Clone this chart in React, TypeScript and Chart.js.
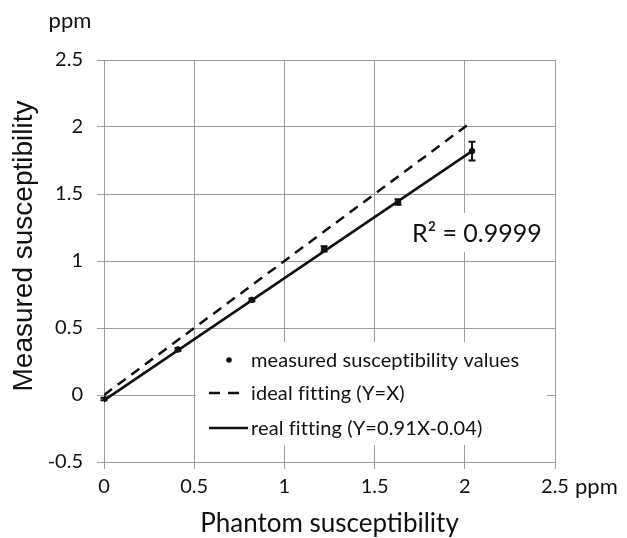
import React, { useEffect, useRef } from "react";
import { Chart, registerables } from "chart.js";

Chart.register(...registerables);

const phantomX = [0, 0.41, 0.82, 1.22, 1.63, 2.04];
const measuredY = [-0.03, 0.34, 0.71, 1.09, 1.44, 1.82];
const measuredErr = [0.01, 0.01, 0.01, 0.02, 0.02, 0.07];
const idealX = [0, 2.04];
const idealY = [0, 2.04];
const fitX = [0, 2.04];
const fitY = [-0.04, 1.82];
const seriesLabels = [
  "measured susceptibility values",
  "ideal fitting (Y=X)",
  "real fitting (Y=0.91X-0.04)",
];
const rSquaredText = "R² = 0.9999";
const xTitle = "Phantom susceptibility";
const yTitle = "Measured susceptibility";
const unitLabel = "ppm";
const xTickValues = [0, 0.5, 1, 1.5, 2, 2.5];
const yTickValues = [-0.5, 0, 0.5, 1, 1.5, 2, 2.5];

const CAL = "Lato, 'Open Sans', sans-serif";
const ARIAL = "'Liberation Sans', Arial, sans-serif";
const INK = "#111";
const GRID = "#9c9c9c";

const overlayPlugin = {
  id: "overlay",
  beforeDatasetsDraw(chart: any) {
    const { ctx, chartArea: a } = chart;
    ctx.save();
    ctx.fillStyle = "#fff";
    // legend box
    ctx.fillRect(a.left + 92, a.top + 282, a.right - a.left - 92 - 8, 103);
    // R² box
    ctx.fillRect(a.left + 301, a.top + 153, 146, 39);
    ctx.restore();
  },
  afterDatasetsDraw(chart: any) {
    const { ctx, scales } = chart;
    const x = scales.x;
    const y = scales.y;
    ctx.save();
    ctx.strokeStyle = INK;
    ctx.lineWidth = 2;
    for (let i = 0; i < phantomX.length; i++) {
      const px = x.getPixelForValue(phantomX[i]);
      const top = y.getPixelForValue(measuredY[i] + measuredErr[i]);
      const bot = y.getPixelForValue(measuredY[i] - measuredErr[i]);
      ctx.beginPath();
      ctx.moveTo(px, top);
      ctx.lineTo(px, bot);
      ctx.moveTo(px - 3.5, top);
      ctx.lineTo(px + 3.5, top);
      ctx.moveTo(px - 3.5, bot);
      ctx.lineTo(px + 3.5, bot);
      ctx.stroke();
    }
    ctx.restore();
  },
  afterDraw(chart: any) {
    const { ctx, chartArea: a } = chart;
    ctx.save();
    ctx.fillStyle = INK;
    ctx.strokeStyle = INK;

    // legend
    const lx = a.left + 105;
    const rows = [a.top + 300, a.top + 333, a.top + 368];
    ctx.font = `20px ${CAL}`;
    ctx.textBaseline = "middle";
    ctx.textAlign = "left";
    // marker
    ctx.beginPath();
    ctx.arc(lx + 20, rows[0], 2.8, 0, Math.PI * 2);
    ctx.fill();
    // dashed
    ctx.lineWidth = 2.5;
    ctx.setLineDash([11, 8]);
    ctx.beginPath();
    ctx.moveTo(lx, rows[1]);
    ctx.lineTo(lx + 31, rows[1]);
    ctx.stroke();
    ctx.setLineDash([]);
    ctx.beginPath();
    ctx.moveTo(lx, rows[2]);
    ctx.lineTo(lx + 39, rows[2]);
    ctx.stroke();
    if ("letterSpacing" in ctx) (ctx as any).letterSpacing = "0.1px";
    for (let i = 0; i < seriesLabels.length; i++) {
      ctx.fillText(seriesLabels[i], lx + 42, rows[i] + 1);
    }
    if ("letterSpacing" in ctx) (ctx as any).letterSpacing = "0px";

    // R²
    ctx.font = `25px ${CAL}`;
    ctx.textBaseline = "alphabetic";
    ctx.fillText(rSquaredText, a.left + 308, a.top + 182);

    // axis titles
    ctx.font = `26px ${CAL}`;
    ctx.textAlign = "center";
    ctx.fillText(xTitle, (a.left + a.right) / 2, 532);

    ctx.save();
    ctx.translate(24, 246);
    ctx.rotate(-Math.PI / 2);
    ctx.font = `28px ${ARIAL}`;
    ctx.textBaseline = "middle";
    ctx.fillText(yTitle, 0, 0);
    ctx.restore();

    // units
    ctx.font = `22px ${CAL}`;
    ctx.textAlign = "center";
    ctx.fillText(unitLabel, 70, 28);
    ctx.textAlign = "left";
    ctx.fillText(unitLabel, a.right + 20, 494);
    ctx.restore();
  },
};

export default function App() {
  const ref = useRef<HTMLCanvasElement | null>(null);
  useEffect(() => {
    document.body.style.margin = "0";
    const canvas = ref.current;
    if (!canvas) return;
    const chart = new Chart(canvas, {
      type: "scatter",
      data: {
        datasets: [
          {
            label: seriesLabels[0],
            data: phantomX.map((v, i) => ({ x: v, y: measuredY[i] })),
            showLine: false,
            pointRadius: 2.8,
            pointBackgroundColor: INK,
            pointBorderColor: INK,
            order: 0,
          },
          {
            label: seriesLabels[1],
            data: idealX.map((v, i) => ({ x: v, y: idealY[i] })),
            showLine: true,
            borderColor: INK,
            borderWidth: 2.5,
            borderDash: [10, 7],
            pointRadius: 0,
            order: 1,
          },
          {
            label: seriesLabels[2],
            data: fitX.map((v, i) => ({ x: v, y: fitY[i] })),
            showLine: true,
            borderColor: INK,
            borderWidth: 2.5,
            pointRadius: 0,
            order: 2,
          },
        ],
      },
      options: {
        responsive: false,
        animation: false,
        events: [],
        layout: { padding: { top: 60, right: 72, left: 0, bottom: 0 } },
        plugins: {
          legend: { display: false },
          tooltip: { enabled: false },
          title: { display: false },
        },
        scales: {
          x: {
            type: "linear",
            min: 0,
            max: 2.5,
            afterBuildTicks: (s: any) => {
              s.ticks = xTickValues.map((v) => ({ value: v }));
            },
            afterFit: (s: any) => {
              s.height = 76;
            },
            grid: { color: GRID, lineWidth: 1, tickLength: 7, tickColor: GRID },
            border: { color: GRID, width: 1 },
            ticks: {
              color: INK,
              font: { family: CAL, size: 20 },
              padding: 6,
              maxRotation: 0,
              callback: (v: any) => String(v),
            },
          },
          y: {
            type: "linear",
            min: -0.5,
            max: 2.5,
            afterBuildTicks: (s: any) => {
              s.ticks = yTickValues.map((v) => ({ value: v }));
            },
            afterFit: (s: any) => {
              s.width = 104;
            },
            grid: { color: GRID, lineWidth: 1, tickLength: 7, tickColor: GRID },
            border: { color: GRID, width: 1 },
            ticks: {
              color: INK,
              font: { family: CAL, size: 20 },
              padding: 14,
              callback: (v: any) => String(v),
            },
          },
        },
      },
      plugins: [overlayPlugin],
    });
    return () => chart.destroy();
  }, []);
  return <canvas ref={ref} width={627} height={538} style={{ display: "block" }} />;
}
